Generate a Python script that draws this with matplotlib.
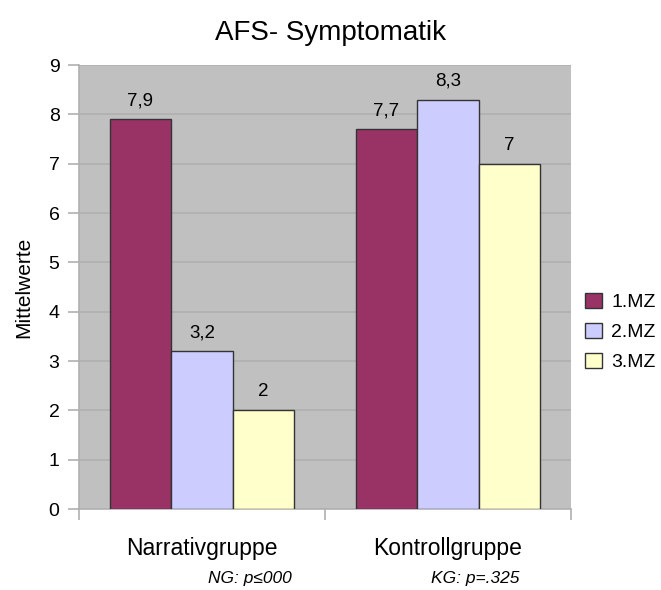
import matplotlib
matplotlib.use("Agg")
import matplotlib.pyplot as plt
import numpy as np

plt.rcParams['font.family'] = ['Liberation Sans', 'DejaVu Sans']

categories = ["Narrativgruppe", "Kontrollgruppe"]
series_names = ["1.MZ", "2.MZ", "3.MZ"]
values = {
    "1.MZ": [7.9, 7.7],
    "2.MZ": [3.2, 8.3],
    "3.MZ": [2.0, 7.0],
}
value_labels = {
    "1.MZ": ["7,9", "7,7"],
    "2.MZ": ["3,2", "8,3"],
    "3.MZ": ["2", "7"],
}
colors = ["#993366", "#CCCCFF", "#FFFFCC"]
notes = ["NG: p≤000", "KG: p=.325"]

W, H = 661, 590
fig = plt.figure(figsize=(W/100, H/100), dpi=100)
ax = fig.add_axes([79/W, 1-509/H, (571-79)/W, (509-65)/H])
ax.set_facecolor("#C0C0C0")

x = np.arange(len(categories))
bw = 0.25
for i, name in enumerate(series_names):
    pos = x + (i-1)*bw
    ax.bar(pos, values[name], width=bw, color=colors[i], edgecolor="#333333",
           linewidth=1.0, label=name, zorder=3)
    for p, v, t in zip(pos, values[name], value_labels[name]):
        ax.text(p, v + 0.2, t, ha="center", va="bottom", fontsize=13.5, zorder=4)

ax.set_xlim(-0.5, 1.5)
ax.set_ylim(0, 9)
ax.set_yticks(range(0, 10))
ax.yaxis.grid(True, color="#B0B0B0", linewidth=1.2, zorder=0)
ax.set_axisbelow(True)
ax.tick_params(axis="y", labelsize=14, length=8, color="#B0B0B0", width=1.2, pad=6)
ax.set_xticks([-0.5, 0.5, 1.5], minor=False)
ax.set_xticklabels([])
ax.tick_params(axis="x", length=8, color="#B0B0B0", width=1.2, direction="out")
for s in ["top", "right"]:
    ax.spines[s].set_visible(False)
ax.spines["left"].set_color("#B0B0B0")
ax.spines["bottom"].set_color("#B0B0B0")
ax.spines["left"].set_linewidth(1.2)
ax.spines["bottom"].set_linewidth(1.2)

for xi, c in zip(x, categories):
    ax.text(xi, -0.8, c, ha="center", va="center", fontsize=16.5,
            transform=ax.transData, clip_on=False)
note_x = [250, 475]
for nx, n in zip(note_x, notes):
    fig.text(nx/W, 1-579/H, n, ha="center", va="center", fontsize=12.5, style="italic")

ax.set_ylabel("Mittelwerte", fontsize=15, labelpad=11)
fig.text(331/W, 1-33/H, "AFS- Symptomatik", ha="center", va="center", fontsize=20)

leg = fig.legend(loc="center left", bbox_to_anchor=(585/W, 1-332/H), frameon=False,
                 fontsize=14, handlelength=0.85, handleheight=0.85, handletextpad=0.5,
                 labelspacing=0.6, borderpad=0, borderaxespad=0)
for p in leg.get_patches():
    p.set_edgecolor("#333333")

fig.savefig("out.png", dpi=100)
